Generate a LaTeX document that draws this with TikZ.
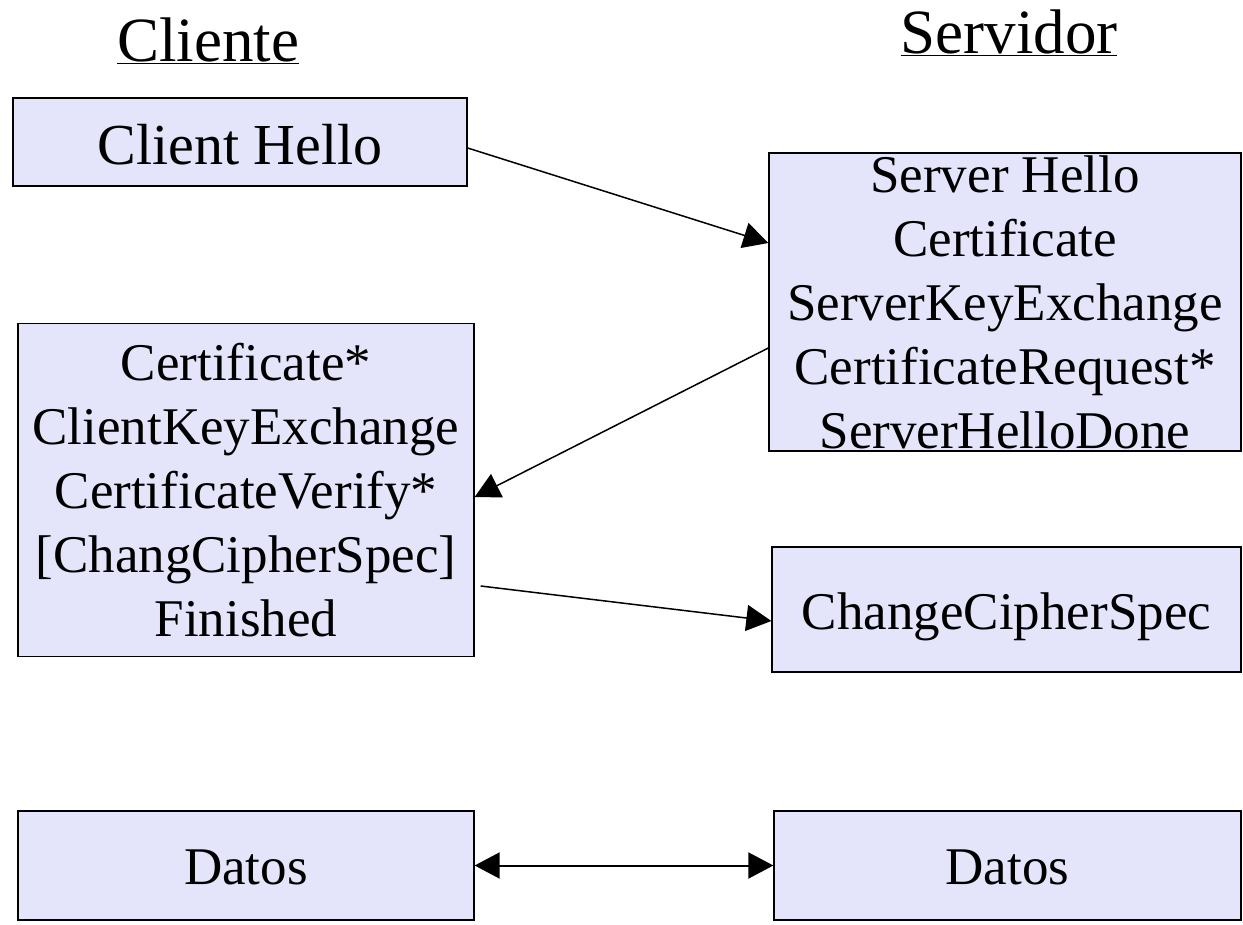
\documentclass[tikz,border=0pt]{standalone}
\usepackage{fontspec}
\setmainfont{Liberation Serif}
\usetikzlibrary{arrows.meta}
\definecolor{boxfill}{HTML}{E4E4FA}
\tikzset{
  msg/.style={draw=black, line width=1.3pt, fill=boxfill, inner sep=0pt, align=center,
    font=\fontsize{53}{64}\selectfont},
  title/.style={font=\fontsize{63}{70}\selectfont, inner sep=0pt},
  flow/.style={line width=1.5pt, -{Triangle[length=25pt,width=26pt]}},
  dflow/.style={line width=2pt, {Triangle[length=25pt,width=26pt]}-{Triangle[length=25pt,width=26pt]}},
}
\begin{document}
\begin{tikzpicture}[x=1pt,y=-1pt]
\useasboundingbox (0,0) rectangle (1243,925);
\node[title] (cl) at (208,41) {\underline{Cliente}};
\node[title] (sr) at (1009,33) {\underline{Servidor}};

\node[msg, minimum width=454pt, minimum height=88pt, font=\fontsize{58}{64}\selectfont,
  text height=46pt, text depth=0pt] (ch) at (240,142) {Client Hello};
\node[msg, minimum width=472pt, minimum height=298pt] (sv) at (1005,302)
  {Server Hello\\Certificate\\ServerKeyExchange\\CertificateRequest*\\ServerHelloDone};
\node[msg, minimum width=456pt, minimum height=333pt] (cc) at (246,490)
  {Certificate*\\ClientKeyExchange\\CertificateVerify*\\{[ChangCipherSpec]}\\Finished};
\node[msg, minimum width=469pt, minimum height=125pt, text height=40pt, text depth=0pt] (ccs) at (1006.5,609.5) {ChangeCipherSpec};
\node[msg, minimum width=456pt, minimum height=109pt, text height=38pt, text depth=0pt] (dl) at (246,865.5) {Datos};
\node[msg, minimum width=467pt, minimum height=109pt, text height=38pt, text depth=0pt] (dr) at (1007.5,865.5) {Datos};

\draw[flow] ([yshift=-6pt]ch.east) -- ([yshift=59pt]sv.west);
\draw[flow] ([yshift=-46pt]sv.west) -- ([yshift=-7pt]cc.east);
\draw[flow] ([xshift=6pt,yshift=-96pt]cc.east) -- ([yshift=-11.5pt]ccs.west);
\draw[dflow] (dl.east) -- (dr.west);
\end{tikzpicture}
\end{document}
